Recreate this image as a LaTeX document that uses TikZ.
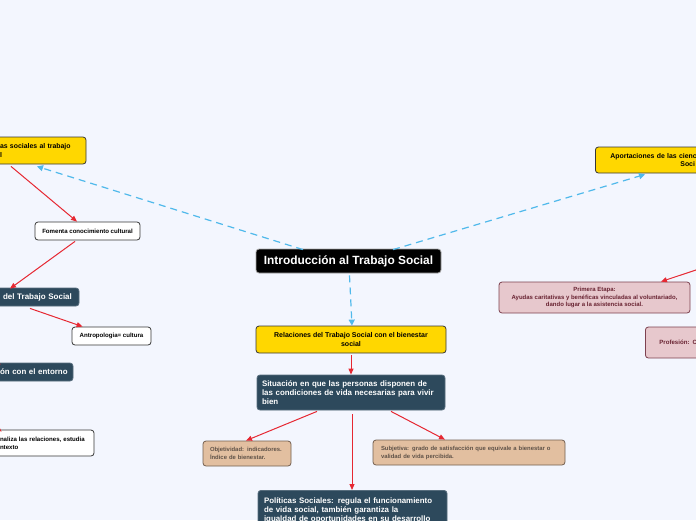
\documentclass[tikz,border=0pt]{standalone}
\usepackage{fontspec}
\setmainfont{Liberation Sans}
\usetikzlibrary{arrows.meta}
\definecolor{bg}{RGB}{243,246,254}
\definecolor{yel}{RGB}{255,215,0}
\definecolor{slate}{RGB}{45,73,92}
\definecolor{tanf}{RGB}{226,191,160}
\definecolor{tand}{RGB}{115,95,80}
\definecolor{tant}{RGB}{95,82,72}
\definecolor{pinkf}{RGB}{231,200,205}
\definecolor{pinkd}{RGB}{125,65,80}
\definecolor{pinkt}{RGB}{105,35,50}
\definecolor{bluel}{RGB}{80,185,235}
\definecolor{redl}{RGB}{230,40,50}
\definecolor{edge}{RGB}{55,55,55}
\begin{document}
\begin{tikzpicture}[x=1pt,y=-1pt,
  base/.style={rounded corners=3pt, line width=0.8pt, inner ysep=0pt, font=\bfseries},
  yelbox/.style={base, fill=yel, draw=edge, text=black},
  darkbox/.style={base, fill=slate, draw=slate!80!white, text=white},
  whitebox/.style={base, fill=white, draw=edge, text=black},
  tanbox/.style={base, fill=tanf, draw=tand, text=tant},
  pinkbox/.style={base, fill=pinkf, draw=pinkd, text=pinkt},
  dashlink/.style={draw=bluel, line width=1.2pt, dash pattern=on 7pt off 5pt, -{Triangle[length=6pt,width=6pt]}},
  redlink/.style={draw=redl, line width=1pt, -{Triangle[length=6pt,width=5pt]}}
]
\useasboundingbox[fill=bg] (0,0) rectangle (696,520);

% central
\node[base, fill=black, draw=gray!70, text=white, minimum width=185pt, minimum height=24pt,
  font=\fontsize{11.9}{13}\selectfont\bfseries] (intro) at (348.5,261) {Introducción al Trabajo Social};

\node[yelbox, minimum width=190pt, minimum height=27pt, align=center,
  font=\fontsize{7}{9}\selectfont\bfseries] (rel) at (351,339.5)
  {Relaciones del Trabajo Social con el bienestar\\social};

\node[darkbox, minimum height=35pt, inner xsep=5pt, text width=178pt, align=left,
  font=\fontsize{7.9}{9.2}\selectfont\bfseries] (sit) at (351,392.5)
  {\mbox{Situación en que las personas disponen de}\\\mbox{las condiciones de vida necesarias para vivir}\\bien};

\node[tanbox, minimum height=25pt, inner xsep=7pt, text width=74pt, align=left,
  font=\fontsize{5.9}{8}\selectfont\bfseries] (obj) at (247,453.5)
  {\mbox{Objetividad: indicadores.}\\\mbox{Índice de bienestar.}};

\node[tanbox, minimum height=25pt, inner xsep=8pt, text width=176pt, align=left,
  font=\fontsize{5.9}{8}\selectfont\bfseries] (sub) at (469,452.5)
  {\mbox{Subjetiva: grado de satisfacción que equivale a bienestar o}\\\mbox{validad de vida percibida.}};

\node[darkbox, anchor=north, minimum height=40pt, inner ysep=4pt, inner xsep=6pt, text width=177pt, align=left,
  font=\fontsize{7.9}{9.3}\selectfont\bfseries] (pol) at (352.5,490)
  {\mbox{Políticas Sociales: regula el funcionamiento}\\\mbox{de vida social, también garantiza la}\\\mbox{igualdad de oportunidades en su desarrollo}};

% left side
\node[yelbox, minimum height=27pt, inner xsep=5pt, text width=81pt, align=left,
  font=\fontsize{6.9}{8.8}\selectfont\bfseries] (ly) at (40.5,150.5)
  {\mbox{as sociales al trabajo}\\l};

\node[whitebox, minimum width=105pt, minimum height=18pt,
  font=\fontsize{6.1}{7}\selectfont\bfseries] (fom) at (87.5,231)
  {Fomenta conocimiento cultural};

\node[darkbox, minimum height=18pt, inner xsep=8pt, text width=68pt, align=left,
  font=\fontsize{8}{9}\selectfont\bfseries] (dts) at (37,297)
  {\mbox{del Trabajo Social}};

\node[whitebox, minimum width=79pt, minimum height=18pt,
  font=\fontsize{6.1}{7}\selectfont\bfseries] (ant) at (111.5,336)
  {Antropologia= cultura};

\node[darkbox, minimum height=18pt, inner xsep=5pt, text width=68pt, align=left,
  font=\fontsize{7.9}{9}\selectfont\bfseries] (ent) at (34,372)
  {\mbox{ón con el entorno}};

\node[whitebox, minimum height=26pt, inner xsep=5pt, text width=89pt, align=left,
  font=\fontsize{6.1}{8}\selectfont\bfseries] (nal) at (44.5,443)
  {\mbox{naliza las relaciones, estudia}\\ntexto};

% right side
\node[yelbox, anchor=west, minimum height=26pt, inner xsep=15pt, text width=110pt, align=left,
  font=\fontsize{6.9}{8.8}\selectfont\bfseries] (ry) at (595,160)
  {\mbox{Aportaciones de las cienc}\\\hspace*{70pt}Soci};

\node[pinkbox, minimum width=191pt, minimum height=31pt, align=center,
  font=\fontsize{6}{7.2}\selectfont\bfseries] (pri) at (594.5,297.5)
  {Primera Etapa:\\\mbox{Ayudas caritativas y benéficas vinculadas al voluntariado,}\\dando lugar a la asistencia social.};

\node[pinkbox, anchor=west, minimum height=31pt, inner xsep=14pt, text width=80pt, align=left,
  font=\fontsize{6.1}{7}\selectfont\bfseries] (prof) at (645,342.5)
  {Profesión: C};

% off-canvas sources
\coordinate (offr) at (702,268);
\coordinate (offa) at (-22,344);
\coordinate (offb) at (-22,412);

% blue dashed links
\draw[dashlink] ([xshift=-45.5pt,yshift=-1pt]intro.north) -- ([xshift=-3.5pt,yshift=-2pt]ly.south);
\draw[dashlink] ([xshift=44.5pt,yshift=-1pt]intro.north) -- ([xshift=50pt,yshift=-1pt]ry.south west);
\draw[dashlink] ([xshift=1pt,yshift=-2pt]intro.south) -- ([xshift=1pt]rel.north);

% red links
\draw[redlink] ([xshift=-29.5pt,yshift=-2pt]ly.south) -- ([xshift=-10.5pt]fom.north);
\draw[redlink] ([xshift=-12.5pt,yshift=-1pt]fom.south) -- ([xshift=-27pt,yshift=-1pt]dts.north);
\draw[redlink] ([xshift=-7pt,yshift=-2pt]dts.south) -- ([xshift=11pt]ant.north west);
\draw[redlink] (offa) -- ([xshift=6pt,yshift=-2pt]ent.north west);
\draw[redlink] (offb) -- ([xshift=7pt,yshift=-2pt]nal.north west);
\draw[redlink] (offr) -- ([xshift=66.5pt]pri.north);
\draw[redlink] ([yshift=-2pt]rel.south) -- (sit.north);
\draw[redlink] ([xshift=-34pt,yshift=-1pt]sit.south) -- ([xshift=-1pt]obj.north);
\draw[redlink] ([xshift=1pt,yshift=-4pt]sit.south) -- ([xshift=-0.5pt]pol.north);
\draw[redlink] ([xshift=40pt,yshift=-1pt]sit.south) -- ([xshift=-24pt]sub.north);
\end{tikzpicture}
\end{document}
